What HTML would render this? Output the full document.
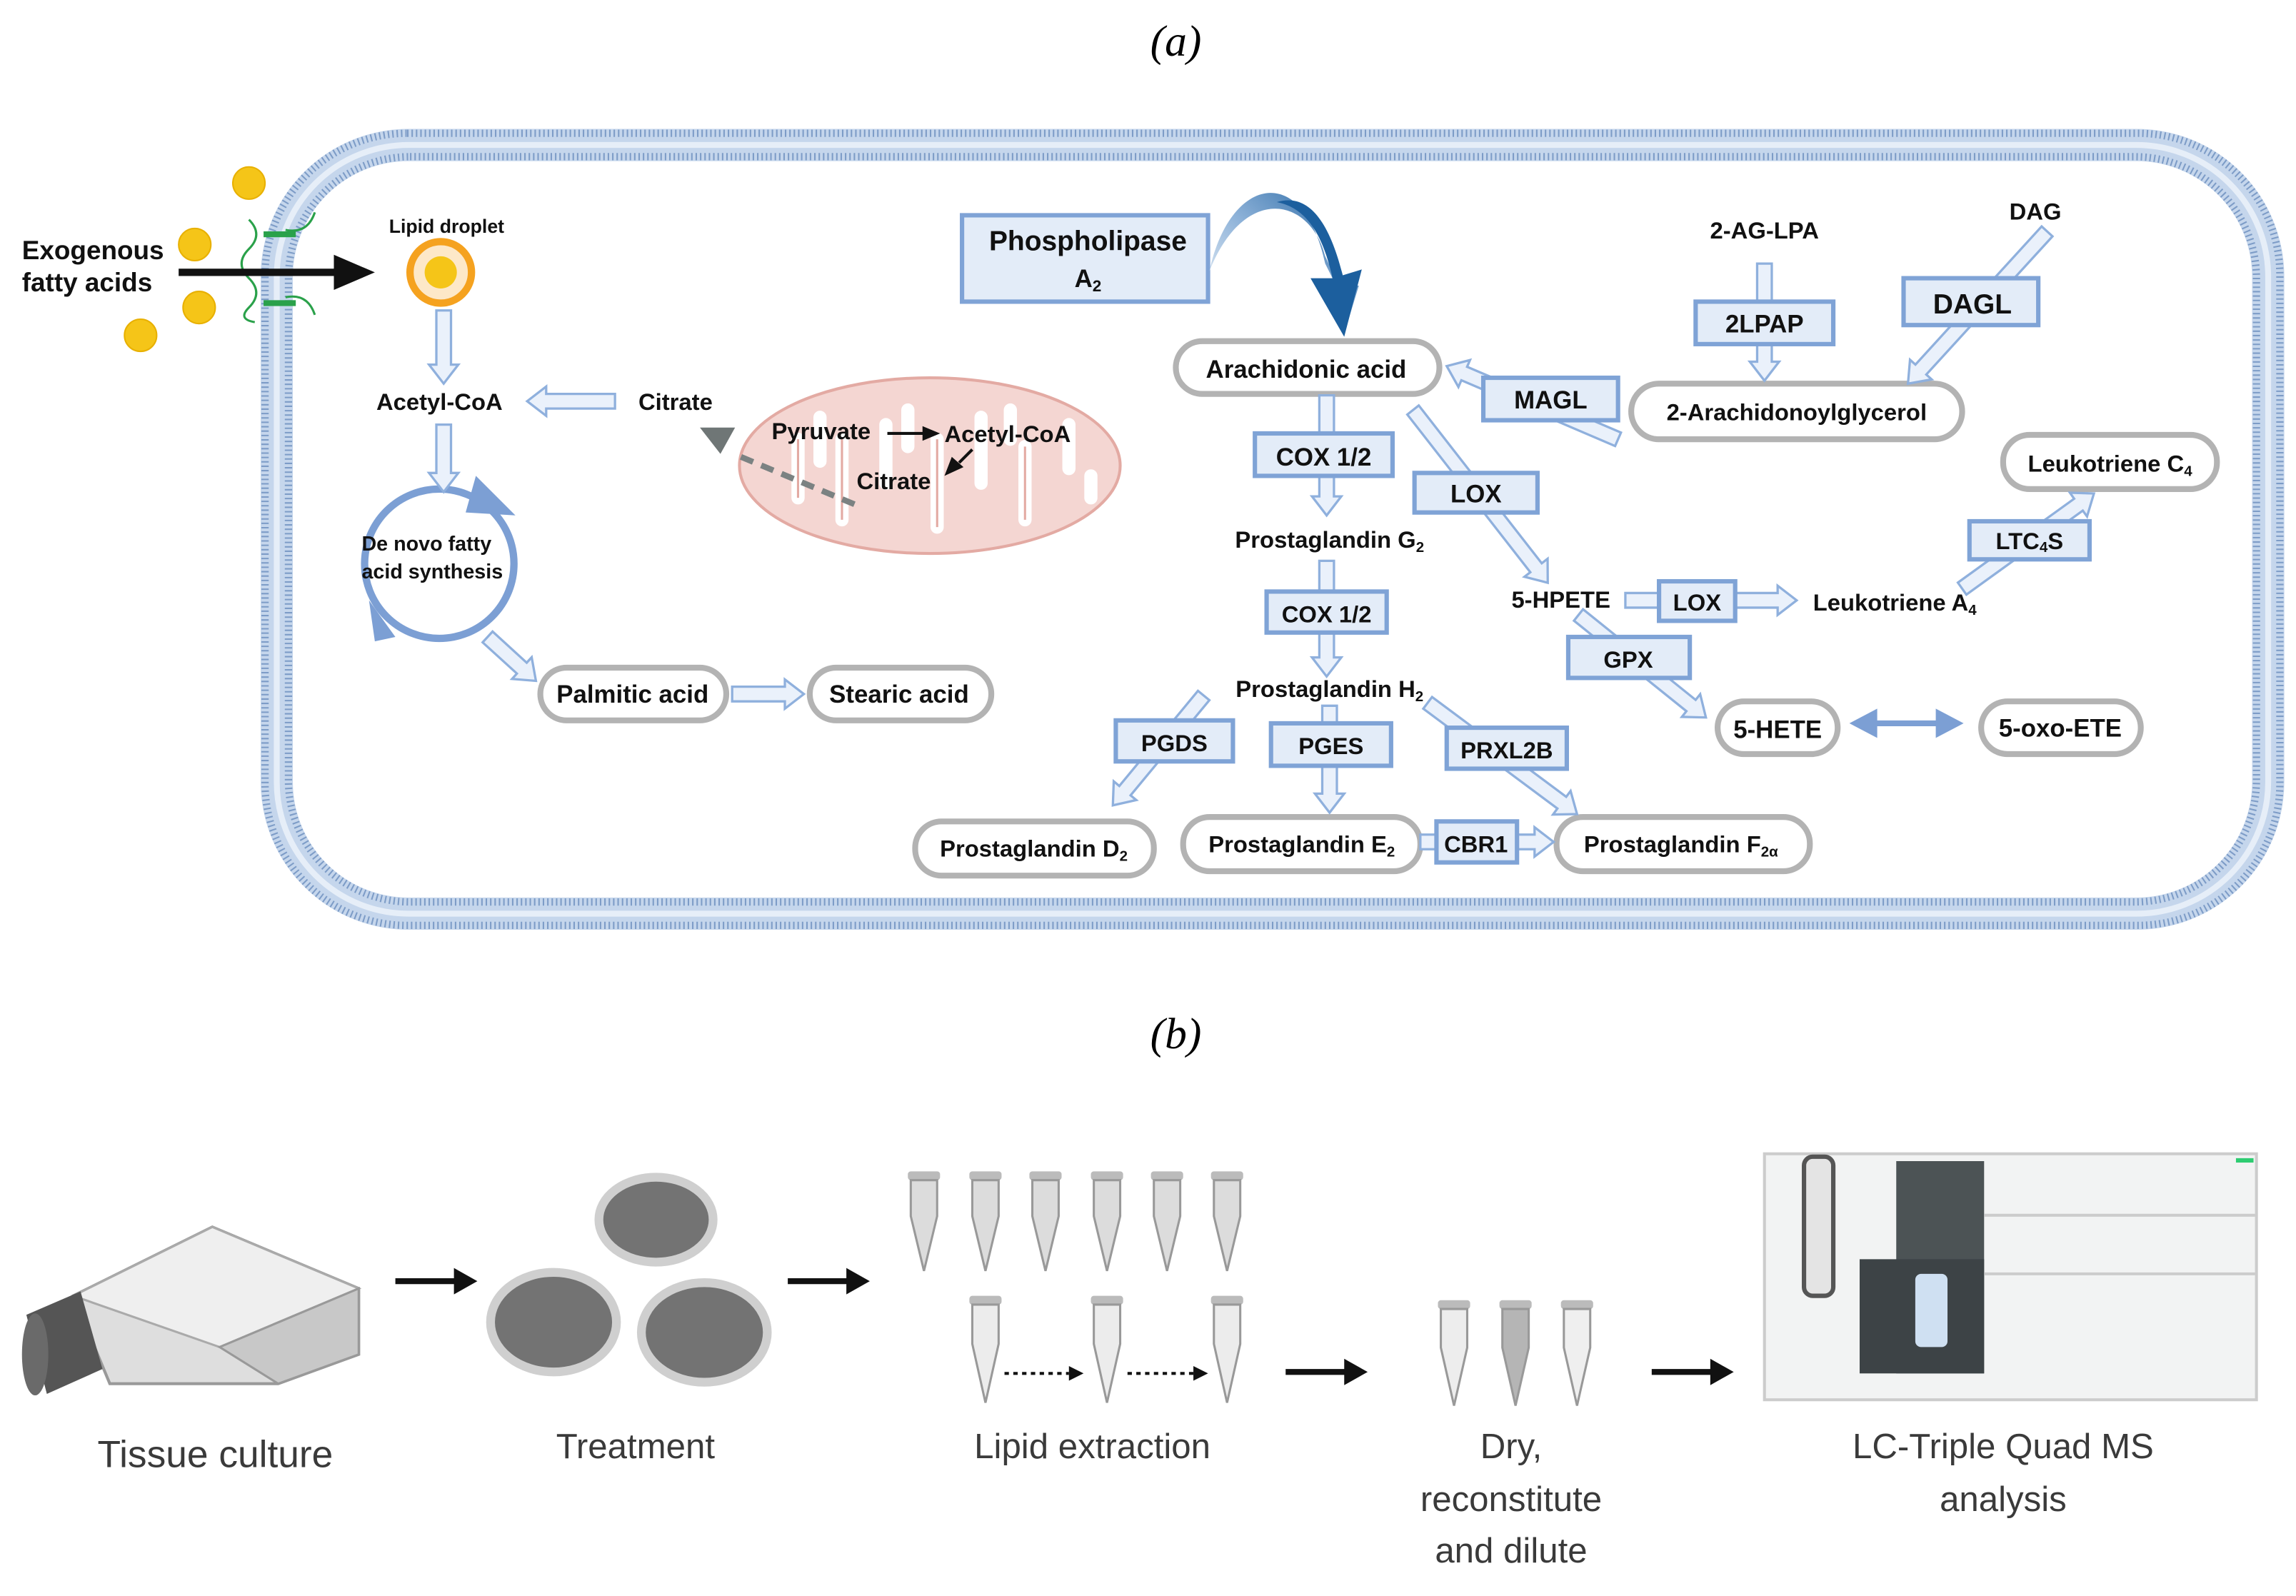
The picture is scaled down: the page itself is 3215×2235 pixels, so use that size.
<!DOCTYPE html>
<html><head><meta charset="utf-8"><style>
html,body{margin:0;padding:0;background:#fff;}
svg{display:block}
text{font-family:"Liberation Sans",sans-serif;}
.b{font-weight:bold;fill:#111;}
.lab{font-family:"DejaVu Sans","Liberation Sans",sans-serif;fill:#3a3a3a;font-size:24px;text-anchor:middle;}
</style></head><body>
<svg id="s" width="3215" height="2235" viewBox="0 0 1568 1090" xmlns="http://www.w3.org/2000/svg">
<defs>
<linearGradient id="cg" x1="0" y1="1" x2="1" y2="0">
<stop offset="0" stop-color="#ffffff"/><stop offset="0.5" stop-color="#8fb3d9"/><stop offset="1" stop-color="#1c5f9e"/>
</linearGradient>
</defs>
<text x="803" y="38" font-family="Liberation Serif" font-style="italic" font-size="30" text-anchor="middle" style="font-family:'Liberation Serif',serif">(a)</text>
<text x="803" y="716" font-family="Liberation Serif" font-style="italic" font-size="30" text-anchor="middle" style="font-family:'Liberation Serif',serif">(b)</text>

<!-- membrane -->
<rect x="189" y="99" width="1360" height="525" rx="90" fill="none" stroke="#c5d6ec" stroke-width="22"/>
<rect x="181" y="91" width="1376" height="541" rx="97" fill="none" stroke="#7d9cc7" stroke-width="5" stroke-dasharray="1 2"/>
<rect x="197" y="107" width="1344" height="509" rx="83" fill="none" stroke="#7d9cc7" stroke-width="5" stroke-dasharray="1 2"/>
<rect x="189" y="99" width="1360" height="525" rx="90" fill="none" stroke="#e6eef8" stroke-width="4"/>

<!-- exogenous -->
<text class="b" x="15" y="177" font-size="18">Exogenous</text>
<text class="b" x="15" y="199" font-size="18">fatty acids</text>
<g fill="#f5c518" stroke="#e8b000" stroke-width="1">
<circle cx="170" cy="125" r="11"/><circle cx="133" cy="167" r="11"/><circle cx="136" cy="210" r="11"/><circle cx="96" cy="229" r="11"/>
</g>
<path d="M170 150 q10 10 0 20 q-10 10 0 20 q10 10 0 20 q-8 8 4 10 M215 145 q-5 15 -20 12 M215 215 q-5 -15 -20 -12" fill="none" stroke="#2aa14a" stroke-width="1.5"/>
<rect x="180" y="158" width="22" height="4" fill="#2aa14a"/><rect x="180" y="205" width="22" height="4" fill="#2aa14a"/>
<line x1="122" y1="186" x2="232" y2="186" stroke="#111" stroke-width="5"/>
<polygon points="228,174 256,186 228,198" fill="#111"/>
<text class="b" x="305" y="159" font-size="13" text-anchor="middle">Lipid droplet</text>
<circle cx="301" cy="186" r="21" fill="#fde8c8" stroke="#f5a21f" stroke-width="5"/>
<circle cx="301" cy="186" r="11" fill="#f5c518"/>

<text class="b" x="257" y="280" font-size="16">Acetyl-CoA</text>
<text class="b" x="436" y="280" font-size="16">Citrate</text>

<!-- mitochondria -->
<ellipse cx="635" cy="318" rx="130" ry="60" fill="#f4d6d2" stroke="#e3aaa3" stroke-width="2"/>
<g fill="none" stroke="#fff" stroke-width="9" stroke-linecap="round">
<path d="M545 340 v-40 M575 355 v-55 M605 330 v-40 M640 360 v-60 M670 330 v-45 M700 355 v-50 M730 320 v-30 M560 285 v30 M620 280 v25 M690 280 v20 M745 340 v-15"/>
</g>
<g fill="none" stroke="#e3aaa3" stroke-width="1.5">
<path d="M545 340 v-40 M575 355 v-55 M640 360 v-60 M700 355 v-50"/>
</g>
<text class="b" x="527" y="300" font-size="16">Pyruvate</text>
<text class="b" x="645" y="302" font-size="16">Acetyl-CoA</text>
<text class="b" x="585" y="334" font-size="16">Citrate</text>
<line x1="606" y1="296" x2="632" y2="296" stroke="#111" stroke-width="2"/><polygon points="630,291 642,296 630,301" fill="#111"/>
<line x1="664" y1="307" x2="655" y2="316" stroke="#111" stroke-width="2"/><polygon points="645,325 650,312 658,319" fill="#111"/>
<polygon points="478,292 502,292 492,310" fill="#6f7676"/>
<line x1="506" y1="312" x2="585" y2="345" stroke="#7b8282" stroke-width="4" stroke-dasharray="9 6"/>

<!-- cycle -->
<circle cx="300" cy="385" r="51" fill="none" stroke="#7c9fd4" stroke-width="5"/>
<polygon points="325,325 352,352 318,350" fill="#7c9fd4"/>
<polygon points="270,435 252,410 256,438" fill="#7c9fd4"/>
<text class="b" x="247" y="376" font-size="14">De novo fatty</text>
<text class="b" x="247" y="395" font-size="14">acid synthesis</text>

<g id="pills" fill="#fff" stroke="#b3b3b3" stroke-width="4">
<rect x="369" y="456" width="127" height="36" rx="18"/>
<rect x="553" y="456" width="124" height="36" rx="18"/>
<rect x="803" y="233" width="180" height="36" rx="18"/>
<rect x="1114" y="262" width="226" height="38" rx="19"/>
<rect x="1368" y="297" width="146" height="37" rx="18"/>
<rect x="1173" y="479" width="82" height="36" rx="18"/>
<rect x="1353" y="479" width="109" height="36" rx="18"/>
<rect x="625" y="561" width="163" height="37" rx="18"/>
<rect x="808" y="558" width="162" height="37" rx="18"/>
<rect x="1063" y="558" width="173" height="37" rx="18"/>
</g>
<g id="arrows"></g>
<g fill="#e3ecf8" stroke="#7fa3d6" stroke-width="3">
<rect x="657" y="147" width="168" height="59"/>
<rect x="1013" y="258" width="92" height="29"/>
<rect x="1158" y="206" width="94" height="29"/>
<rect x="1300" y="190" width="92" height="32"/>
<rect x="857" y="296" width="94" height="29"/>
<rect x="966" y="323" width="84" height="27"/>
<rect x="865" y="404" width="82" height="28"/>
<rect x="1133" y="397" width="52" height="27"/>
<rect x="1345" y="356" width="82" height="26"/>
<rect x="1071" y="435" width="83" height="28"/>
<rect x="762" y="492" width="80" height="28"/>
<rect x="868" y="494" width="82" height="29"/>
<rect x="988" y="497" width="82" height="28"/>
<rect x="981" y="561" width="55" height="28"/>
</g>
<!-- big curved arrow -->
<path d="M826 185 C840 120 890 110 905 180 L915 200 L900 198 L918 228 L928 195 L915 196 L905 175 C895 135 850 125 826 185 Z" fill="url(#cg)"/>
<path d="M872 138 C893 142 904 162 910 190 L895 190 L918 230 L930 184 L917 188 C907 148 892 132 872 138Z" fill="#1c5f9e"/>
<line x1="1268" y1="494" x2="1335" y2="494" stroke="#7c9fd4" stroke-width="4"/>
<polygon points="1263,494 1282,484 1282,504" fill="#7c9fd4"/><polygon points="1341,494 1322,484 1322,504" fill="#7c9fd4"/>

<g class="b" font-size="17" text-anchor="middle">
<text x="743" y="171" font-size="19">Phospholipase</text>
<text x="743" y="196" font-size="17">A<tspan font-size="11" dy="3">2</tspan></text>
<text x="432" y="480">Palmitic acid</text>
<text x="614" y="480">Stearic acid</text>
<text x="892" y="258">Arachidonic acid</text>
<text x="1059" y="279">MAGL</text>
<text x="1227" y="287" font-size="16">2-Arachidonoylglycerol</text>
<text x="1205" y="163" font-size="16">2-AG-LPA</text>
<text x="1205" y="227">2LPAP</text>
<text x="1390" y="150" font-size="16">DAG</text>
<text x="1347" y="214" font-size="19">DAGL</text>
<text x="904" y="318">COX 1/2</text>
<text x="908" y="374" font-size="16">Prostaglandin G<tspan font-size="10" dy="3">2</tspan></text>
<text x="1008" y="343">LOX</text>
<text x="906" y="425" font-size="16">COX 1/2</text>
<text x="908" y="476" font-size="16">Prostaglandin H<tspan font-size="10" dy="3">2</tspan></text>
<text x="1066" y="415" font-size="16">5-HPETE</text>
<text x="1159" y="417" font-size="16">LOX</text>
<text x="1294" y="417" font-size="16">Leukotriene A<tspan font-size="10" dy="3">4</tspan></text>
<text x="1386" y="375" font-size="16">LTC<tspan font-size="10" dy="2">4</tspan><tspan dy="-2">S</tspan></text>
<text x="1441" y="322" font-size="16">Leukotriene C<tspan font-size="10" dy="3">4</tspan></text>
<text x="1112" y="456" font-size="16">GPX</text>
<text x="1214" y="504">5-HETE</text>
<text x="1407" y="503">5-oxo-ETE</text>
<text x="802" y="513" font-size="16">PGDS</text>
<text x="909" y="515" font-size="16">PGES</text>
<text x="1029" y="518" font-size="16">PRXL2B</text>
<text x="706" y="585" font-size="16">Prostaglandin D<tspan font-size="10" dy="3">2</tspan></text>
<text x="889" y="582" font-size="16">Prostaglandin E<tspan font-size="10" dy="3">2</tspan></text>
<text x="1008" y="582" font-size="16">CBR1</text>
<text x="1148" y="582" font-size="16">Prostaglandin F<tspan font-size="10" dy="3">2α</tspan></text>
</g>

<!-- bottom panel: flask -->
<g>
<polygon points="50,885 145,838 245,880 245,925 190,945 75,945" fill="#dedede" stroke="#999" stroke-width="2"/>
<polygon points="50,885 145,838 245,880 150,920" fill="#efefef" stroke="#aaa" stroke-width="1.5"/>
<polygon points="150,920 245,880 245,925 190,945" fill="#c8c8c8" stroke="#999" stroke-width="1.5"/>
<polygon points="18,898 55,882 70,935 32,952" fill="#555"/>
<ellipse cx="24" cy="925" rx="9" ry="28" fill="#6a6a6a"/>
</g>
<g fill="#111">
<line x1="270" y1="875" x2="312" y2="875" stroke="#111" stroke-width="4"/><polygon points="310,866 326,875 310,884"/>
<line x1="538" y1="875" x2="580" y2="875" stroke="#111" stroke-width="4"/><polygon points="578,866 594,875 578,884"/>
<line x1="878" y1="937" x2="920" y2="937" stroke="#111" stroke-width="4"/><polygon points="918,928 934,937 918,946"/>
<line x1="1128" y1="937" x2="1170" y2="937" stroke="#111" stroke-width="4"/><polygon points="1168,928 1184,937 1168,946"/>
</g>
<g stroke="#cfcfcf" stroke-width="6">
<ellipse cx="448" cy="833" rx="39" ry="29" fill="#737373"/>
<ellipse cx="378" cy="903" rx="43" ry="34" fill="#737373"/>
<ellipse cx="481" cy="910" rx="43" ry="34" fill="#737373"/>
</g>
<g id="tubes"></g>
<g stroke="#111" stroke-width="2" stroke-dasharray="3 3">
<line x1="686" y1="938" x2="730" y2="938"/><line x1="770" y1="938" x2="815" y2="938"/>
</g>
<g fill="#111"><polygon points="730,933 740,938 730,943"/><polygon points="815,933 825,938 815,943"/></g>
<!-- MS -->
<rect x="1205" y="788" width="336" height="168" fill="#f2f3f3" stroke="#ccc" stroke-width="2"/>
<rect x="1295" y="793" width="60" height="145" fill="#4c5355"/>
<rect x="1270" y="860" width="85" height="78" fill="#3d4346"/>
<rect x="1308" y="870" width="22" height="50" rx="4" fill="#cfe0f2"/>
<line x1="1355" y1="830" x2="1540" y2="830" stroke="#ccc" stroke-width="2"/>
<line x1="1355" y1="870" x2="1540" y2="870" stroke="#ccc" stroke-width="2"/>
<rect x="1232" y="790" width="20" height="95" rx="6" fill="#e4e4e4" stroke="#555" stroke-width="3"/>
<rect x="1527" y="791" width="12" height="3" fill="#2ecc71"/>
<g class="lab">
<text x="147" y="1002" font-size="26">Tissue culture</text>
<text x="434" y="996">Treatment</text>
<text x="746" y="996">Lipid extraction</text>
<text x="1032" y="996">Dry,</text>
<text x="1032" y="1032">reconstitute</text>
<text x="1032" y="1067">and dilute</text>
<text x="1368" y="996">LC-Triple Quad MS</text>
<text x="1368" y="1032">analysis</text>
</g>
</svg>
<script>
var NS="http://www.w3.org/2000/svg";
function arr(x1,y1,x2,y2,s,h,hl){s=s||5;h=h||10;hl=hl||13;
var dx=x2-x1,dy=y2-y1,L=Math.hypot(dx,dy),c=dx/L,n=dy/L;
var pts=[[0,-s],[L-hl,-s],[L-hl,-h],[L,0],[L-hl,h],[L-hl,s],[0,s]];
var p=document.createElementNS(NS,"polygon");
p.setAttribute("points",pts.map(function(q){return (x1+q[0]*c-q[1]*n).toFixed(1)+","+(y1+q[0]*n+q[1]*c).toFixed(1)}).join(" "));
p.setAttribute("fill","#eaf1fb");p.setAttribute("stroke","#8fb0dd");p.setAttribute("stroke-width","1.6");
document.getElementById("arrows").appendChild(p);}
arr(303,212,303,262);arr(420,274,360,274);arr(303,290,303,336);arr(333,435,366,465);arr(500,474,549,474);
arr(906,270,906,352);arr(906,383,906,462);arr(965,280,1057,398);arr(1105,300,988,250);
arr(1205,180,1205,260);arr(1398,158,1303,262);arr(1110,410,1227,410);arr(1340,402,1430,337);
arr(1078,420,1165,490);arr(822,475,760,550);arr(908,482,908,555);arr(975,480,1077,556);arr(970,575,1061,575);
var T=document.getElementById("tubes");
function tube(x,y,h,fill){var g=document.createElementNS(NS,"g");
g.innerHTML='<rect x="'+(x-11)+'" y="'+y+'" width="22" height="6" rx="2" fill="#bbb"/><polygon points="'+(x-9)+','+(y+6)+' '+(x+9)+','+(y+6)+' '+(x+9)+','+(y+h*0.45)+' '+x+','+(y+h)+' '+(x-9)+','+(y+h*0.45)+'" fill="'+fill+'" stroke="#999" stroke-width="1.5"/>';
T.appendChild(g);}
[631,673,714,756,797,838].forEach(function(x){tube(x,800,68,"#dcdcdc")});
[673,756,838].forEach(function(x){tube(x,885,73,"#ececec")});
tube(993,888,72,"#ededed");tube(1035,888,72,"#b5b5b5");tube(1077,888,72,"#efefef");
</script>
</body></html>
